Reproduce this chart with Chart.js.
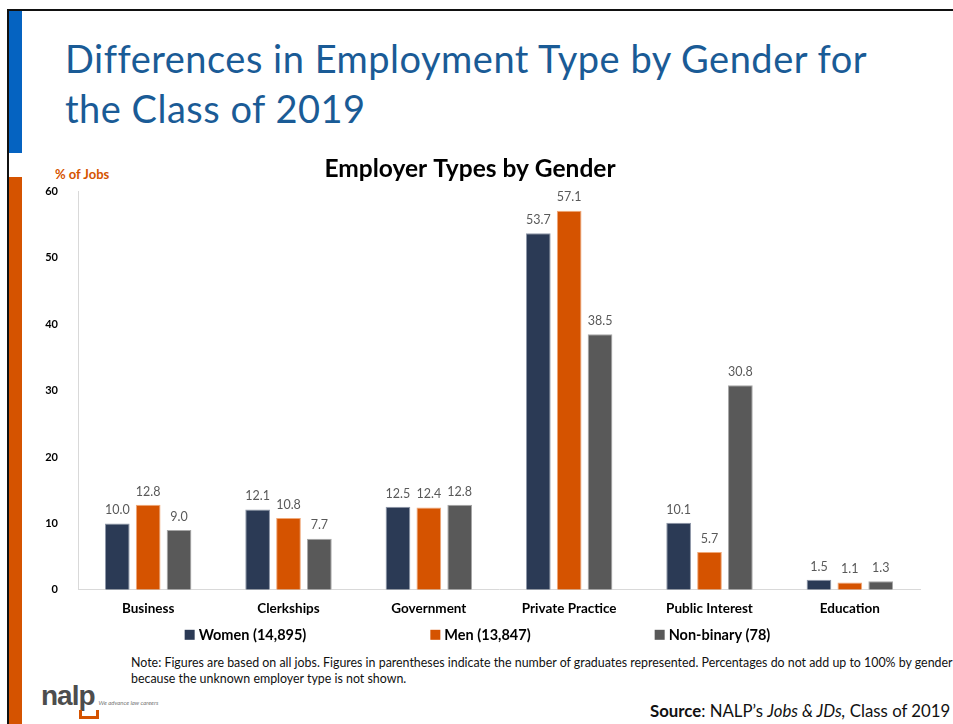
<!DOCTYPE html>
<html>
<head>
<meta charset="utf-8">
<script src="https://cdn.jsdelivr.net/npm/chart.js@4.4.1/dist/chart.umd.min.js"></script>
<style>
  body { margin: 0; background: #fff; font-family: Lato, "Open Sans", sans-serif; }
  #slide { position: relative; width: 953px; height: 724px; overflow: hidden; background: #fff; }
  .frameTop { position: absolute; left: 7px; top: 9px; width: 946px; height: 2px; background: #111; }
  .frameLeft { position: absolute; left: 7px; top: 9px; width: 2px; height: 715px; background: #111; }
  .barBlue { position: absolute; left: 9px; top: 11px; width: 13px; height: 142px; background: #0563c1; }
  .barOrange { position: absolute; left: 9px; top: 177px; width: 13px; height: 547px; background: #d55300; }
  h1 { position: absolute; left: 65px; top: 33px; margin: 0; font-weight: normal; font-size: 38px; letter-spacing: 0.5px; line-height: 50px; color: #1a5b96; white-space: nowrap; }
  #yTitle { position: absolute; left: 55px; top: 166px; font-size: 13px; font-weight: bold; color: #d55300; }
  #wrap { position: absolute; left: 20px; top: 150px; width: 933px; height: 500px; }
  .note { position: absolute; left: 131px; top: 655px; font-size: 12.4px; line-height: 16px; color: #111; white-space: nowrap; }
  .source { position: absolute; left: 650px; top: 700px; font-size: 16.8px; color: #111; white-space: nowrap; }
  .logo { position: absolute; left: 41px; top: 680px; }
  .logo b { font-size: 28px; color: #4d4d4d; letter-spacing: -1px; font-family: "Liberation Sans", sans-serif; }
  .logo span { font-size: 6px; color: #777; font-style: italic; margin-left: 4px; }
  .logo i { position: absolute; left: 38px; top: 30px; width: 14px; height: 6px; border: 3px solid #d55300; border-top: none; }
</style>
</head>
<body>
<div id="slide">
  <div class="frameTop"></div>
  <div class="frameLeft"></div>
  <div class="barBlue"></div>
  <div class="barOrange"></div>
  <h1>Differences in Employment Type by Gender for<br>the Class of 2019</h1>
  <div id="yTitle">% of Jobs</div>
  <div id="wrap"><canvas id="chart"></canvas></div>
  <div class="note">Note: Figures are based on all jobs. Figures in parentheses indicate the number of graduates represented. Percentages do not add up to 100% by gender<br>because the unknown employer type is not shown.</div>
  <div class="logo"><b>nalp</b><span>We advance law careers</span><i></i></div>
  <div class="source"><b>Source</b>: NALP’s <i>Jobs &amp; JDs,</i> Class of 2019</div>
</div>
<script>
// Employer types and shares of jobs (%)
const categories = ['Business', 'Clerkships', 'Government', 'Private Practice', 'Public Interest', 'Education'];
const women = [10.0, 12.1, 12.5, 53.7, 10.1, 1.5];
const men = [12.8, 10.8, 12.4, 57.1, 5.7, 1.1];
const nonBinary = [9.0, 7.7, 12.8, 38.5, 30.8, 1.3];
const seriesNames = ['Women (14,895)', 'Men (13,847)', 'Non-binary (78)'];

const FONT = 'Lato, "Open Sans", sans-serif';

// value labels above each bar
const barLabels = {
    id: 'barLabels',
    afterDatasetsDraw(chart) {
        const ctx = chart.ctx;
        ctx.save();
        ctx.font = '12.5px ' + FONT;
        ctx.fillStyle = '#595959';
        ctx.textAlign = 'center';
        ctx.textBaseline = 'bottom';
        chart.data.datasets.forEach((ds, i) => {
            chart.getDatasetMeta(i).data.forEach((bar, j) => {
                ctx.fillText(ds.data[j].toFixed(1), bar.x, bar.y - 7);
            });
        });
        ctx.restore();
    }
};

// legend row under the axis, wide gaps like the slide
const wideLegend = {
    id: 'wideLegend',
    afterDraw(chart) {
        const ctx = chart.ctx;
        const gap = 124, box = 10;
        ctx.save();
        ctx.font = 'bold 14.5px ' + FONT;
        ctx.textBaseline = 'middle';
        const items = chart.data.datasets.map(ds => ({
            text: ds.label, color: ds.backgroundColor, w: box + 4 + ctx.measureText(ds.label).width
        }));
        const total = items.reduce((s, it) => s + it.w, 0) + gap * (items.length - 1);
        let x = chart.width / 2 - 9 - total / 2;
        const y = chart.chartArea.bottom + 45;
        items.forEach(it => {
            ctx.fillStyle = it.color;
            ctx.fillRect(x, y - box / 2, box, box);
            ctx.fillStyle = '#000';
            ctx.fillText(it.text, x + box + 4, y + 1);
            x += it.w + gap;
        });
        ctx.restore();
    }
};

const CHART = document.getElementById('chart');
const employerChart = new Chart(CHART, {
    type: 'bar',
    data: {
        labels: categories,
        datasets: [
            { label: seriesNames[0], data: women, backgroundColor: '#2b3a55', borderColor: '#8e97a8', borderWidth: 1 },
            { label: seriesNames[1], data: men, backgroundColor: '#d55300', borderColor: '#f0a878', borderWidth: 1 },
            { label: seriesNames[2], data: nonBinary, backgroundColor: '#595959', borderColor: '#a6a6a6', borderWidth: 1 },
        ]
    },
    options: {
        responsive: true,
        maintainAspectRatio: false,
        animation: false,
        categoryPercentage: 0.66,
        barPercentage: 0.8,
        layout: {
            padding: { left: 0, right: 33, top: 0, bottom: 30 }
        },
        plugins: {
            title: {
                display: true,
                text: 'Employer Types by Gender',
                color: '#000',
                font: { size: 24.5, weight: 'bold', family: FONT },
                padding: { top: 4, bottom: 8 },
            },
            legend: { display: false },
            tooltip: { enabled: false },
        },
        scales: {
            x: {
                grid: { display: false },
                border: { color: '#d9d9d9' },
                ticks: {
                    color: '#000',
                    padding: 3,
                    font: { size: 13.5, weight: 'bold', family: FONT },
                },
            },
            y: {
                min: 0,
                max: 60,
                afterFit(scale) { scale.width = 58; },
                grid: { display: false },
                border: { color: '#d9d9d9' },
                ticks: {
                    stepSize: 10,
                    color: '#000',
                    padding: 12,
                    font: { size: 11, weight: 'bold', family: FONT },
                },
            },
        },
    },
    plugins: [barLabels, wideLegend],
});
</script>
</body>
</html>
